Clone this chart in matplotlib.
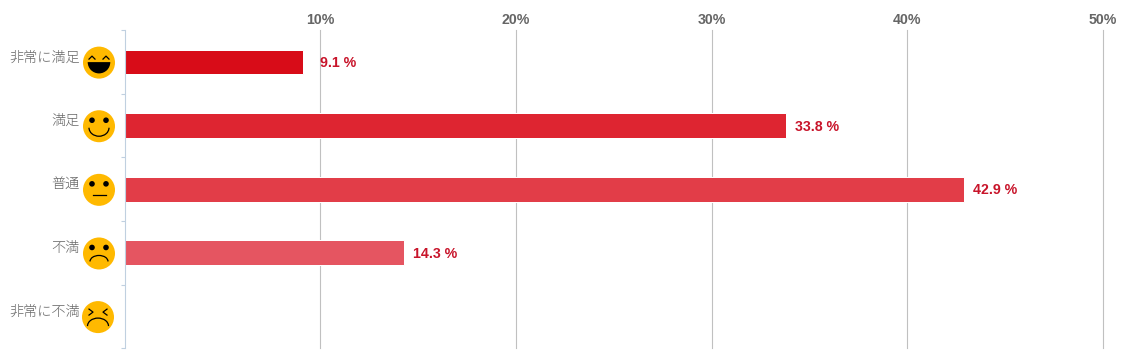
import matplotlib
matplotlib.use("Agg")
import matplotlib.pyplot as plt
from matplotlib.patches import Circle, Arc, Wedge

labels = ['非常に満足', '満足', '普通', '不満', '非常に不満']
values = [9.1, 33.8, 42.9, 14.3, 0]
bar_colors = ['#d80c18', '#de2531', '#e23d48', '#e55561', '#e96d76']
label_gap = [17, 9, 9, 9, 9]
faces = ['laugh', 'smile', 'neutral', 'sad', 'angry']
x_ticks = [10, 20, 30, 40, 50]
x_tick_labels = ['10%', '20%', '30%', '40%', '50%']

W, H = 1123, 363
fig = plt.figure(figsize=(W / 100, H / 100), dpi=100, facecolor='white')

# plot area in pixels
left, right, top, bottom = 124.7, 1102.7, 30.2, 348.3
ax = fig.add_axes([left / W, 1 - bottom / H, (right - left) / W, (bottom - top) / H])
ax.set_xlim(0, 50)
ax.set_ylim(len(labels), 0)

for s in ['top', 'right', 'bottom']:
    ax.spines[s].set_visible(False)
ax.spines['left'].set_color('#c0d0e0')
ax.spines['left'].set_linewidth(0.8)

ax.xaxis.tick_top()
ax.set_xticks(x_ticks)
ax.set_xticklabels(x_tick_labels, family='Liberation Sans', fontweight='bold', fontsize=10.2, color='#666666')
ax.tick_params(axis='x', length=0, pad=2)
ax.grid(axis='x', color='#c0c0c0', linewidth=0.8, clip_on=False)
ax.set_axisbelow(True)

ax.set_yticks(range(len(labels) + 1))
ax.set_yticklabels([])
ax.tick_params(axis='y', length=3, width=0.8, color='#c0d0e0')

ypos = [i + 0.5 for i in range(len(labels))]
ax.barh(ypos, values, height=0.39, color=bar_colors, edgecolor='white', linewidth=0.72)

for y, v, gap in zip(ypos, values, label_gap):
    if v > 0:
        ax.annotate('%.1f %%' % v, (v, y), xytext=(gap, -1), textcoords='offset pixels',
                    family='Liberation Sans', fontweight='bold', fontsize=10.2, color='#c8142a',
                    va='center', ha='left')

# overlay in pixel coords for category labels and the smileys
ov = fig.add_axes([0, 0, 1, 1], facecolor='none')
ov.set_xlim(0, W)
ov.set_ylim(H, 0)
ov.axis('off')


def draw_face(cx, cy, kind):
    ov.add_patch(Circle((cx, cy), 16, color='#ffb900', lw=0))
    if kind in ('smile', 'neutral', 'sad'):
        for dx in (-7, 7):
            ov.add_patch(Circle((cx + dx, cy - 6), 2.8, color='black', lw=0))
    if kind == 'laugh':
        for dx in (-7, 7):
            ov.plot([cx + dx - 3, cx + dx, cx + dx + 3], [cy - 3.5, cy - 6.5, cy - 3.5], color='black', lw=0.9)
        ov.add_patch(Wedge((cx, cy - 0.5), 11.3, 0, 180, color='black', lw=0))
    elif kind == 'smile':
        ov.add_patch(Arc((cx, cy + 1.5), 20, 17, theta1=0, theta2=180, color='black', lw=0.9))
    elif kind == 'neutral':
        ov.plot([cx - 6.5, cx + 6.5], [cy + 5, cy + 5], color='black', lw=0.9)
    elif kind == 'sad':
        ov.add_patch(Arc((cx, cy + 8), 18, 12, theta1=180, theta2=360, color='black', lw=0.9))
    elif kind == 'angry':
        ov.plot([cx - 9, cx - 5, cx - 9], [cy - 8, cy - 5, cy - 2], color='black', lw=0.9)
        ov.plot([cx + 9, cx + 5, cx + 9], [cy - 8, cy - 5, cy - 2], color='black', lw=0.9)
        ov.add_patch(Arc((cx, cy + 9), 21, 16, theta1=180, theta2=360, color='black', lw=0.9))


band = (bottom - top) / len(labels)
for i, (lab, kind) in enumerate(zip(labels, faces)):
    cy = top + band * (i + 0.5) + 0.6
    cx = 98 if kind == 'angry' else 99
    draw_face(cx, cy, kind)
    ov.text(79.5, cy - 5, lab, ha='right', va='center', fontsize=10.2, color='#666666',
            family=['Noto Sans CJK JP', 'DejaVu Sans'], fontweight='light')

fig.savefig('out.png', dpi=100)
